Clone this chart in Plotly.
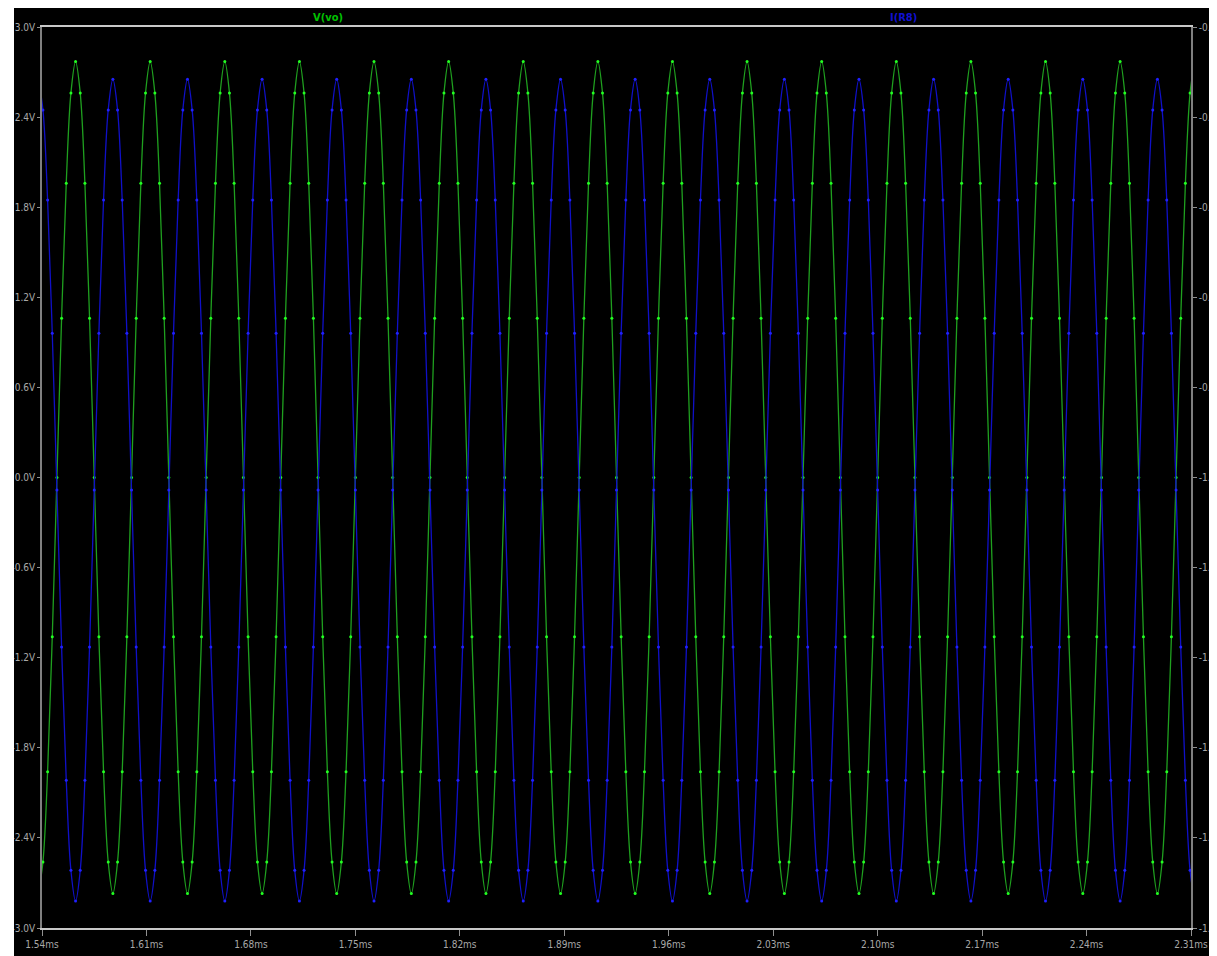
import plotly.graph_objects as go

# ---- data (LTspice transient, 20 kHz) ----
time_ms = [
    1.5375, 1.540625, 1.54375, 1.546875, 1.55, 1.553125, 1.55625, 1.559375, 1.5625, 1.565625, 1.56875, 1.571875, 1.575, 1.578125, 1.58125, 1.584375,
    1.5875, 1.590625, 1.59375, 1.596875, 1.6, 1.603125, 1.60625, 1.609375, 1.6125, 1.615625, 1.61875, 1.621875, 1.625, 1.628125, 1.63125, 1.634375,
    1.6375, 1.640625, 1.64375, 1.646875, 1.65, 1.653125, 1.65625, 1.659375, 1.6625, 1.665625, 1.66875, 1.671875, 1.675, 1.678125, 1.68125, 1.684375,
    1.6875, 1.690625, 1.69375, 1.696875, 1.7, 1.703125, 1.70625, 1.709375, 1.7125, 1.715625, 1.71875, 1.721875, 1.725, 1.728125, 1.73125, 1.734375,
    1.7375, 1.740625, 1.74375, 1.746875, 1.75, 1.753125, 1.75625, 1.759375, 1.7625, 1.765625, 1.76875, 1.771875, 1.775, 1.778125, 1.78125, 1.784375,
    1.7875, 1.790625, 1.79375, 1.796875, 1.8, 1.803125, 1.80625, 1.809375, 1.8125, 1.815625, 1.81875, 1.821875, 1.825, 1.828125, 1.83125, 1.834375,
    1.8375, 1.840625, 1.84375, 1.846875, 1.85, 1.853125, 1.85625, 1.859375, 1.8625, 1.865625, 1.86875, 1.871875, 1.875, 1.878125, 1.88125, 1.884375,
    1.8875, 1.890625, 1.89375, 1.896875, 1.9, 1.903125, 1.90625, 1.909375, 1.9125, 1.915625, 1.91875, 1.921875, 1.925, 1.928125, 1.93125, 1.934375,
    1.9375, 1.940625, 1.94375, 1.946875, 1.95, 1.953125, 1.95625, 1.959375, 1.9625, 1.965625, 1.96875, 1.971875, 1.975, 1.978125, 1.98125, 1.984375,
    1.9875, 1.990625, 1.99375, 1.996875, 2.0, 2.003125, 2.00625, 2.009375, 2.0125, 2.015625, 2.01875, 2.021875, 2.025, 2.028125, 2.03125, 2.034375,
    2.0375, 2.040625, 2.04375, 2.046875, 2.05, 2.053125, 2.05625, 2.059375, 2.0625, 2.065625, 2.06875, 2.071875, 2.075, 2.078125, 2.08125, 2.084375,
    2.0875, 2.090625, 2.09375, 2.096875, 2.1, 2.103125, 2.10625, 2.109375, 2.1125, 2.115625, 2.11875, 2.121875, 2.125, 2.128125, 2.13125, 2.134375,
    2.1375, 2.140625, 2.14375, 2.146875, 2.15, 2.153125, 2.15625, 2.159375, 2.1625, 2.165625, 2.16875, 2.171875, 2.175, 2.178125, 2.18125, 2.184375,
    2.1875, 2.190625, 2.19375, 2.196875, 2.2, 2.203125, 2.20625, 2.209375, 2.2125, 2.215625, 2.21875, 2.221875, 2.225, 2.228125, 2.23125, 2.234375,
    2.2375, 2.240625, 2.24375, 2.246875, 2.25, 2.253125, 2.25625, 2.259375, 2.2625, 2.265625, 2.26875, 2.271875, 2.275, 2.278125, 2.28125, 2.284375,
    2.2875, 2.290625, 2.29375, 2.296875, 2.3, 2.303125, 2.30625, 2.309375, 2.3125,
]

v_vo = [
    -2.77, -2.56, -1.96, -1.06, 0.0, 1.06, 1.96, 2.56, 2.77, 2.56, 1.96, 1.06, 0.0, -1.06, -1.96, -2.56,
    -2.77, -2.56, -1.96, -1.06, 0.0, 1.06, 1.96, 2.56, 2.77, 2.56, 1.96, 1.06, 0.0, -1.06, -1.96, -2.56,
    -2.77, -2.56, -1.96, -1.06, 0.0, 1.06, 1.96, 2.56, 2.77, 2.56, 1.96, 1.06, 0.0, -1.06, -1.96, -2.56,
    -2.77, -2.56, -1.96, -1.06, 0.0, 1.06, 1.96, 2.56, 2.77, 2.56, 1.96, 1.06, 0.0, -1.06, -1.96, -2.56,
    -2.77, -2.56, -1.96, -1.06, 0.0, 1.06, 1.96, 2.56, 2.77, 2.56, 1.96, 1.06, 0.0, -1.06, -1.96, -2.56,
    -2.77, -2.56, -1.96, -1.06, 0.0, 1.06, 1.96, 2.56, 2.77, 2.56, 1.96, 1.06, 0.0, -1.06, -1.96, -2.56,
    -2.77, -2.56, -1.96, -1.06, 0.0, 1.06, 1.96, 2.56, 2.77, 2.56, 1.96, 1.06, 0.0, -1.06, -1.96, -2.56,
    -2.77, -2.56, -1.96, -1.06, 0.0, 1.06, 1.96, 2.56, 2.77, 2.56, 1.96, 1.06, 0.0, -1.06, -1.96, -2.56,
    -2.77, -2.56, -1.96, -1.06, 0.0, 1.06, 1.96, 2.56, 2.77, 2.56, 1.96, 1.06, 0.0, -1.06, -1.96, -2.56,
    -2.77, -2.56, -1.96, -1.06, 0.0, 1.06, 1.96, 2.56, 2.77, 2.56, 1.96, 1.06, 0.0, -1.06, -1.96, -2.56,
    -2.77, -2.56, -1.96, -1.06, 0.0, 1.06, 1.96, 2.56, 2.77, 2.56, 1.96, 1.06, 0.0, -1.06, -1.96, -2.56,
    -2.77, -2.56, -1.96, -1.06, 0.0, 1.06, 1.96, 2.56, 2.77, 2.56, 1.96, 1.06, 0.0, -1.06, -1.96, -2.56,
    -2.77, -2.56, -1.96, -1.06, 0.0, 1.06, 1.96, 2.56, 2.77, 2.56, 1.96, 1.06, 0.0, -1.06, -1.96, -2.56,
    -2.77, -2.56, -1.96, -1.06, 0.0, 1.06, 1.96, 2.56, 2.77, 2.56, 1.96, 1.06, 0.0, -1.06, -1.96, -2.56,
    -2.77, -2.56, -1.96, -1.06, 0.0, 1.06, 1.96, 2.56, 2.77, 2.56, 1.96, 1.06, 0.0, -1.06, -1.96, -2.56,
    -2.77, -2.56, -1.96, -1.06, 0.0, 1.06, 1.96, 2.56, 2.77,
]

i_r8_mA = [
    -0.779, -0.796, -0.846, -0.920, -1.007, -1.094, -1.168, -1.218, -1.235, -1.218, -1.168, -1.094, -1.007, -0.920, -0.846, -0.796,
    -0.779, -0.796, -0.846, -0.920, -1.007, -1.094, -1.168, -1.218, -1.235, -1.218, -1.168, -1.094, -1.007, -0.920, -0.846, -0.796,
    -0.779, -0.796, -0.846, -0.920, -1.007, -1.094, -1.168, -1.218, -1.235, -1.218, -1.168, -1.094, -1.007, -0.920, -0.846, -0.796,
    -0.779, -0.796, -0.846, -0.920, -1.007, -1.094, -1.168, -1.218, -1.235, -1.218, -1.168, -1.094, -1.007, -0.920, -0.846, -0.796,
    -0.779, -0.796, -0.846, -0.920, -1.007, -1.094, -1.168, -1.218, -1.235, -1.218, -1.168, -1.094, -1.007, -0.920, -0.846, -0.796,
    -0.779, -0.796, -0.846, -0.920, -1.007, -1.094, -1.168, -1.218, -1.235, -1.218, -1.168, -1.094, -1.007, -0.920, -0.846, -0.796,
    -0.779, -0.796, -0.846, -0.920, -1.007, -1.094, -1.168, -1.218, -1.235, -1.218, -1.168, -1.094, -1.007, -0.920, -0.846, -0.796,
    -0.779, -0.796, -0.846, -0.920, -1.007, -1.094, -1.168, -1.218, -1.235, -1.218, -1.168, -1.094, -1.007, -0.920, -0.846, -0.796,
    -0.779, -0.796, -0.846, -0.920, -1.007, -1.094, -1.168, -1.218, -1.235, -1.218, -1.168, -1.094, -1.007, -0.920, -0.846, -0.796,
    -0.779, -0.796, -0.846, -0.920, -1.007, -1.094, -1.168, -1.218, -1.235, -1.218, -1.168, -1.094, -1.007, -0.920, -0.846, -0.796,
    -0.779, -0.796, -0.846, -0.920, -1.007, -1.094, -1.168, -1.218, -1.235, -1.218, -1.168, -1.094, -1.007, -0.920, -0.846, -0.796,
    -0.779, -0.796, -0.846, -0.920, -1.007, -1.094, -1.168, -1.218, -1.235, -1.218, -1.168, -1.094, -1.007, -0.920, -0.846, -0.796,
    -0.779, -0.796, -0.846, -0.920, -1.007, -1.094, -1.168, -1.218, -1.235, -1.218, -1.168, -1.094, -1.007, -0.920, -0.846, -0.796,
    -0.779, -0.796, -0.846, -0.920, -1.007, -1.094, -1.168, -1.218, -1.235, -1.218, -1.168, -1.094, -1.007, -0.920, -0.846, -0.796,
    -0.779, -0.796, -0.846, -0.920, -1.007, -1.094, -1.168, -1.218, -1.235, -1.218, -1.168, -1.094, -1.007, -0.920, -0.846, -0.796,
    -0.779, -0.796, -0.846, -0.920, -1.007, -1.094, -1.168, -1.218, -1.235,
]

x_ticks = [1.54, 1.61, 1.68, 1.75, 1.82, 1.89, 1.96, 2.03, 2.10, 2.17, 2.24, 2.31]
x_ticktext = ["1.54ms", "1.61ms", "1.68ms", "1.75ms", "1.82ms", "1.89ms",
              "1.96ms", "2.03ms", "2.10ms", "2.17ms", "2.24ms", "2.31ms"]
yl_ticks = [3.0, 2.4, 1.8, 1.2, 0.6, 0.0, -0.6, -1.2, -1.8, -2.4, -3.0]
yl_ticktext = ["3.0V", "2.4V", "1.8V", "1.2V", "0.6V", "0.0V",
               "-0.6V", "-1.2V", "-1.8V", "-2.4V", "-3.0V"]
yr_ticks = [-0.75, -0.80, -0.85, -0.90, -0.95, -1.00, -1.05, -1.10, -1.15, -1.20, -1.25]
yr_ticktext = ["-0.75mA", "-0.80mA", "-0.85mA", "-0.90mA", "-0.95mA", "-1.00mA",
               "-1.05mA", "-1.10mA", "-1.15mA", "-1.20mA", "-1.25mA"]

FONT = "Liberation Sans Narrow, DejaVu Sans Condensed, sans-serif"
TICKCOL = "#a8a8a8"
TICKSIZE = 10

fig = go.Figure()
fig.add_trace(go.Scatter(
    x=time_ms, y=v_vo, name="V(vo)", mode="lines+markers",
    line=dict(color="#1fa01f", width=1.3, shape="spline", smoothing=1.0),
    marker=dict(color="#22ff22", size=3),
))
fig.add_trace(go.Scatter(
    x=time_ms, y=i_r8_mA, name="I(R8)", mode="lines+markers", yaxis="y2",
    line=dict(color="#1010c8", width=1.3, shape="spline", smoothing=1.0),
    marker=dict(color="#2020ff", size=3),
))

# the page has an 8 px body margin at top/left, so the figure is 8 px smaller
OFF = 8
W, H = 1217 - OFF, 956 - OFF
L, T = 42 - OFF, 27 - OFF
R = W - (1191 - OFF)
B = H - (928 - OFF)
pw, ph = W - L - R, H - T - B

fig.update_layout(
    width=W, height=H,
    margin=dict(l=L, r=R, t=T, b=B, pad=0, autoexpand=False),
    paper_bgcolor="black", plot_bgcolor="black",
    showlegend=False,
    font=dict(family=FONT, size=TICKSIZE, color=TICKCOL),
    xaxis=dict(
        range=[1.54, 2.31], tickvals=x_ticks, ticktext=x_ticktext,
        showgrid=False, zeroline=False, automargin=False,
        showline=True, linecolor="#c8c8c8", linewidth=1.5, mirror=True,
        ticks="outside", ticklen=6, tickcolor="#909090", tickwidth=1,
        tickfont=dict(family=FONT, size=TICKSIZE, color=TICKCOL),
    ),
    yaxis=dict(
        range=[-3.0, 3.0], tickvals=yl_ticks, ticktext=yl_ticktext,
        showgrid=False, zeroline=False, automargin=False,
        showline=True, linecolor="#808080", linewidth=1.5,
        ticks="outside", ticklen=3, tickcolor="#909090",
        tickfont=dict(family=FONT, size=TICKSIZE, color=TICKCOL),
    ),
    yaxis2=dict(
        range=[-1.25, -0.75], tickvals=yr_ticks, ticktext=yr_ticktext,
        overlaying="y", side="right", anchor="x",
        showgrid=False, zeroline=False, automargin=False,
        showline=True, linecolor="#808080", linewidth=1.5,
        ticks="outside", ticklen=4, tickcolor="#909090",
        tickfont=dict(family=FONT, size=TICKSIZE, color=TICKCOL),
    ),
)

def px_x(p):
    # page pixel -> paper fraction
    return (p - OFF - L) / pw

def px_y(p):
    return (H - B - (p - OFF)) / ph

# white strip on the left (screenshot border)
fig.add_shape(type="rect", xref="paper", yref="paper",
              x0=px_x(-5), x1=px_x(14), y0=px_y(H + 30), y1=px_y(-5),
              fillcolor="white", line=dict(width=0), layer="above")

# trace labels above the plot
fig.add_annotation(text="<b>V(vo)</b>", xref="paper", yref="paper",
                   x=px_x(328), y=px_y(17), xanchor="center", yanchor="middle",
                   showarrow=False,
                   font=dict(family=FONT, size=11, color="#00c000"))
fig.add_annotation(text="<b>I(R8)</b>", xref="paper", yref="paper",
                   x=px_x(903), y=px_y(17), xanchor="center", yanchor="middle",
                   showarrow=False,
                   font=dict(family=FONT, size=11, color="#1010d0"))

fig.write_html("out.html")
